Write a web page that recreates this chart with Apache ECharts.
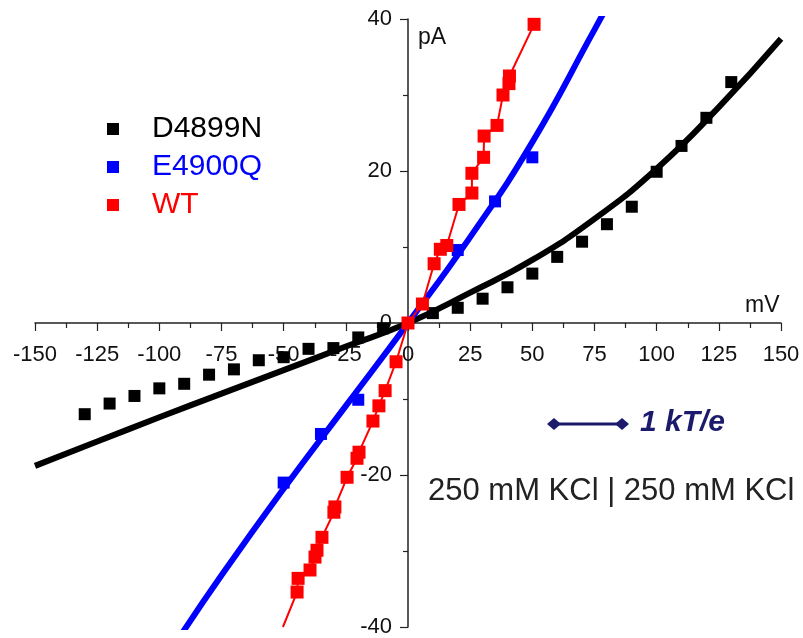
<!DOCTYPE html>
<html>
<head>
<meta charset="utf-8">
<script src="https://cdn.jsdelivr.net/npm/echarts@6/dist/echarts.min.js"></script>
<style>
  html, body { margin: 0; padding: 0; background: #fff; }
  #chart { width: 803px; height: 638px; }
</style>
</head>
<body>
<div id="chart"></div>
<script>
// D4899N measured points (mV, pA)
var d4899nV = [-130, -120, -110, -100, -90, -80, -70, -60, -50, -40, -30, -20, -10, 0, 10, 20, 30, 40, 50, 60, 70, 80, 90, 100, 110, 120, 130];
var d4899nI = [-12.0, -10.6, -9.6, -8.6, -8.0, -6.8, -6.1, -4.9, -4.5, -3.4, -3.3, -1.9, -0.7, 0, 1.3, 2.0, 3.2, 4.7, 6.5, 8.7, 10.7, 13.0, 15.3, 19.9, 23.3, 27.0, 31.7];
// D4899N fitted curve
var d4899nFitV = [-150, -125, -100, -75, -50, -25, 0, 25, 50, 75, 100, 125, 150];
var d4899nFitI = [-18.8, -15.6, -12.4, -9.3, -6.2, -3.1, 0, 4.0, 8.3, 13.7, 20.3, 28.4, 37.4];

// E4900Q measured points
var e4900qV = [-50, -35, -20, 0, 20, 35, 50];
var e4900qI = [-21.0, -14.6, -10.1, 0, 9.6, 16.0, 21.8];
// E4900Q fitted curve
var e4900qFitV = [-92, -75, -50, -25, 0, 25, 50, 75, 79];
var e4900qFitI = [-41.4, -33.2, -21.8, -10.9, 0, 11.3, 23.8, 38.6, 41.0];

// WT measured points
var wtV = [-44.6, -44.2, -39.4, -37.4, -36.6, -34.6, -29.8, -29.4, -24.5, -20.5, -19.7, -14.1, -11.7, -9.2, -4.8, 0, 5.8, 10.5, 13.0, 15.6, 20.5, 25.7, 25.7, 30.4, 30.6, 35.8, 38.2, 40.6, 40.8, 50.7];
var wtI = [-35.4, -33.6, -32.5, -30.8, -29.9, -28.2, -24.9, -24.2, -20.3, -17.8, -17.0, -12.9, -10.9, -8.9, -5.1, 0, 2.5, 7.8, 9.7, 10.2, 15.6, 17.1, 19.7, 21.8, 24.6, 26.0, 30.0, 31.5, 32.5, 39.3];
// WT connecting line extends down to the axis end
var wtLineStart = [-50.3, -40];

var xTicks = { min: -150, max: 150, step: 25 };
var yTicks = { min: -40, max: 40, step: 20 };

function pairs(xs, ys) {
    var out = [];
    for (var i = 0; i < xs.length; i++) out.push([xs[i], ys[i]]);
    return out;
}

var FONT = "'Liberation Sans', Arial, sans-serif";
var wtLine = [wtLineStart].concat(pairs(wtV, wtI));

// plot box in pixels; axes are shifted onto the zero lines
var W = 803, H = 638;
var G = { left: 35, right: 22, top: 19, bottom: 11 };
var gw = W - G.left - G.right, gh = H - G.top - G.bottom;
var xAxisShift = -gh * (0 - yTicks.min) / (yTicks.max - yTicks.min);
var yAxisShift = -gw * (0 - xTicks.min) / (xTicks.max - xTicks.min);

var myChart = echarts.init(document.getElementById('chart'));
var option = {
    backgroundColor: '#fff',
    animation: false,
    grid: { left: G.left, right: G.right, top: G.top, bottom: G.bottom, containLabel: false, outerBoundsMode: 'none' },
    legend: {
        orient: 'vertical',
        left: 102,
        top: 109,
        icon: 'rect',
        itemWidth: 12,
        itemHeight: 12,
        itemGap: 8,
        textStyle: { fontSize: 30, fontFamily: FONT, padding: [0, 0, 0, 28] },
        data: [
            { name: 'D4899N', textStyle: { color: '#000' } },
            { name: 'E4900Q', textStyle: { color: '#0000ff' } },
            { name: 'WT', textStyle: { color: '#ff0000' } }
        ]
    },
    xAxis: {
        type: 'value',
        position: 'bottom',
        offset: xAxisShift,
        min: xTicks.min, max: xTicks.max, interval: xTicks.step,
        axisLine: { onZero: false, lineStyle: { color: '#222', width: 1.5 } },
        axisTick: { length: 8, lineStyle: { color: '#222', width: 1.2 } },
        minorTick: { show: true, splitNumber: 2, length: 5, lineStyle: { color: '#222', width: 1.2 } },
        splitLine: { show: false },
        axisLabel: { fontSize: 22, fontFamily: FONT, color: '#111', margin: 21, showMinLabel: true, showMaxLabel: true }
    },
    yAxis: {
        type: 'value',
        position: 'left',
        offset: yAxisShift,
        min: yTicks.min, max: yTicks.max, interval: yTicks.step,
        axisLine: { onZero: false, lineStyle: { color: '#222', width: 1.5 } },
        axisTick: { length: 8, lineStyle: { color: '#222', width: 1.2 } },
        minorTick: { show: true, splitNumber: 2, length: 5, lineStyle: { color: '#222', width: 1.2 } },
        splitLine: { show: false },
        axisLabel: { fontSize: 22, fontFamily: FONT, color: '#111', margin: 16 }
    },
    graphic: [
        { type: 'text', left: 418, top: 26, style: { text: 'pA', fontSize: 23, fontFamily: FONT, fill: '#111' } },
        { type: 'text', left: 745, top: 294, style: { text: 'mV', fontSize: 23, fontFamily: FONT, fill: '#111' } },
        { type: 'line', shape: { x1: 553, y1: 424, x2: 623, y2: 424 }, style: { stroke: '#1c1a6b', lineWidth: 3 } },
        { type: 'polygon', shape: { points: [[547, 424], [554, 418], [561, 424], [554, 430]] }, style: { fill: '#1c1a6b' } },
        { type: 'polygon', shape: { points: [[615, 424], [622, 418], [629, 424], [622, 430]] }, style: { fill: '#1c1a6b' } },
        { type: 'text', left: 640, top: 408, style: { text: '1 kT/e', fontSize: 30, fontWeight: 'bold', fontStyle: 'italic', fontFamily: FONT, fill: '#1c1a6b' } },
        { type: 'text', left: 428, top: 476, style: { text: '250 mM KCl | 250 mM KCl', fontSize: 31, fontFamily: FONT, fill: '#222' } }
    ],
    series: [
        {
            type: 'line', smooth: true, symbol: 'none', silent: true,
            data: pairs(d4899nFitV, d4899nFitI),
            lineStyle: { color: '#000', width: 6 }, z: 2
        },
        {
            type: 'line', smooth: true, symbol: 'none', silent: true,
            data: pairs(e4900qFitV, e4900qFitI),
            lineStyle: { color: '#0000ff', width: 6 }, z: 2
        },
        {
            type: 'line', symbol: 'none', silent: true,
            data: wtLine,
            lineStyle: { color: '#ff0000', width: 2 }, z: 3
        },
        {
            name: 'D4899N', type: 'scatter', symbol: 'rect', symbolSize: 12,
            data: pairs(d4899nV, d4899nI),
            itemStyle: { color: '#000', opacity: 1 }, z: 4
        },
        {
            name: 'E4900Q', type: 'scatter', symbol: 'rect', symbolSize: 12,
            data: pairs(e4900qV, e4900qI),
            itemStyle: { color: '#0000ff', opacity: 1 }, z: 4
        },
        {
            name: 'WT', type: 'scatter', symbol: 'rect', symbolSize: 13,
            data: pairs(wtV, wtI),
            itemStyle: { color: '#ff0000', opacity: 1 }, z: 5
        }
    ]
};
myChart.setOption(option);
</script>
</body>
</html>
